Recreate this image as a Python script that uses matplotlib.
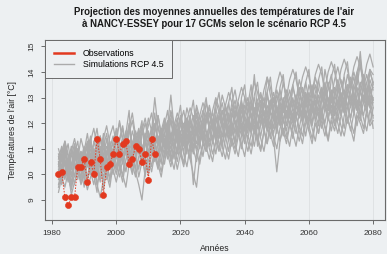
import numpy as np
import matplotlib
matplotlib.use("Agg")
import matplotlib.pyplot as plt

plt.rcParams['font.family'] = ['Liberation Sans', 'DejaVu Sans']

# observations Nancy-Essey, moyennes annuelles (°C)
obs_years = list(range(1982, 2013))
obs_temp = [10.0, 10.1, 9.1, 8.8, 9.1, 9.1, 10.3, 10.3, 10.6, 9.7,
            10.5, 10.0, 11.4, 10.6, 9.2, 10.3, 10.4, 10.8, 11.4, 10.8,
            11.2, 11.3, 10.4, 10.6, 11.1, 11.0, 10.5, 10.8, 9.8, 11.4,
            10.8]

sim_years = list(range(1982, 2081))

# 17 GCMs, RCP 4.5 (valeurs lues a l'oeil, 1982 -> 2080)
sim_01 = """10.1 10.8 9.9 10.6 10.2 11.0 10.4 9.8
10.9 10.3 11.2 10.6 10.0 11.1 10.7 11.4 10.5 10.9
11.3 10.6 11.0 11.7 10.8 10.4 11.5 11.1 10.7 11.6
11.2 10.8 11.9 11.3 10.9 11.6 11.0 12.2 11.4 10.9
11.7 11.2 12.0 11.5 10.9 12.1 11.6 11.3 12.3 11.8
11.4 12.2 11.7 12.5 11.9 11.3 12.4 12.0 11.6 12.7
12.1 11.6 12.8 12.3 11.9 12.6 12.0 13.1 12.4 11.8
12.7 12.2 12.9 11.9 12.5 13.0 12.3 12.8 12.1 13.2
12.6 12.0 13.1 12.7 12.2 13.3 12.5 12.9 12.3 13.4
12.8 12.4 13.2 12.6 13.5 12.9 12.3 13.6 12.7 13.1
12.8"""
sim_02 = """9.6 10.2 10.9 9.9 9.4 10.5 10.1 10.7
9.8 10.4 10.0 11.0 10.3 9.7 10.6 10.2 11.1 10.5
10.0 10.9 10.4 11.2 10.6 10.1 10.8 9.9 10.5 11.3
10.7 11.5 10.9 10.3 11.4 11.0 11.8 10.6 11.2 11.7
11.0 10.4 11.6 11.2 9.6 10.8 11.5 12.0 11.1 11.7
12.1 11.3 11.8 11.0 12.3 11.6 12.0 11.2 12.5 11.9
11.4 12.2 11.8 12.6 11.1 12.0 12.4 11.7 12.9 12.2
11.6 12.5 12.0 12.8 12.3 11.8 12.7 12.2 13.0 12.4
12.0 12.8 12.4 11.9 13.0 12.6 12.1 13.2 12.5 12.9
12.3 13.1 12.7 12.2 13.0 12.5 13.3 12.8 12.4 13.4
12.9"""
sim_03 = """11.0 10.5 11.3 10.8 10.2 11.1 10.6 11.4
10.9 11.6 10.7 11.2 11.8 10.8 11.3 10.6 11.5 11.9
11.2 12.1 11.4 10.9 11.8 12.4 11.5 11.0 11.9 11.4
12.2 11.7 13.0 11.8 11.3 12.1 11.6 12.5 12.0 11.5
12.3 11.8 12.6 12.1 11.6 12.7 12.2 11.9 12.8 12.3
11.8 12.9 12.4 13.1 12.6 12.0 12.8 13.3 12.5 12.1
13.0 12.7 13.5 12.4 12.9 13.2 12.6 13.8 13.1 12.5
13.3 12.8 13.6 13.0 12.6 13.4 12.9 13.7 13.2 12.7
13.5 13.0 13.8 13.3 12.9 14.1 13.4 13.0 13.7 14.2
13.6 13.1 13.9 13.4 14.0 13.5 14.3 13.8 13.2 14.0
13.6"""
sim_04 = """9.3 9.9 9.5 10.1 9.2 9.7 10.2 9.6
10.0 9.4 9.9 10.3 9.6 9.1 9.8 10.4 9.9 10.2
9.7 10.3 10.0 9.5 10.4 10.8 10.1 9.6 9.0 10.2
10.6 10.1 10.8 10.4 9.9 10.7 11.1 10.5 10.9 10.2
10.8 10.3 11.1 10.6 10.0 9.5 10.7 11.2 10.9 11.4
10.8 11.3 10.9 11.6 11.1 10.6 11.4 11.0 11.7 11.2
10.7 11.5 11.1 11.8 11.3 10.9 11.7 11.2 11.9 11.4
10.1 11.3 11.8 11.4 12.0 11.6 11.1 11.9 11.5 12.2
11.7 11.2 12.0 11.6 12.3 11.8 11.3 12.1 11.7 12.4
11.9 11.5 12.2 11.8 11.3 12.3 12.0 11.6 12.4 11.9
12.1"""
sim_05 = """10.4 10.0 10.7 11.2 10.3 9.9 10.8 10.5
11.0 10.6 10.2 11.3 10.8 11.5 10.4 10.9 11.2 10.7
11.6 11.1 10.6 11.4 11.0 11.7 11.2 10.8 11.5 12.0
11.4 11.0 11.7 12.3 11.5 11.1 11.9 13.1 11.8 11.3
12.0 11.5 12.2 11.7 11.3 12.4 11.9 11.4 12.1 12.6
12.0 11.6 12.3 11.9 12.7 12.2 11.8 12.5 12.1 12.8
12.3 11.9 12.6 13.9 12.4 12.0 12.8 12.3 12.9 12.5
12.1 12.8 12.4 13.1 12.7 12.2 13.0 12.6 12.3 13.2
12.8 12.4 13.1 12.7 13.4 12.9 12.5 13.3 12.8 12.4
13.2 12.8 13.5 13.0 12.6 13.6 14.8 13.4 12.9 13.7
13.3"""
sim_06 = """10.7 10.2 9.8 10.5 11.1 10.4 10.0 10.9
10.3 10.8 11.4 10.5 10.1 10.9 11.3 10.6 10.2 11.0
10.7 11.3 11.8 10.9 10.5 11.2 10.8 11.6 11.1 10.6
11.3 11.8 11.2 10.8 11.6 12.0 11.4 11.0 11.7 12.2
11.5 11.1 11.8 12.3 11.6 11.2 12.0 12.5 11.7 11.3
12.1 12.6 11.9 11.5 12.3 12.8 12.0 11.6 12.4 12.9
12.2 11.8 12.5 13.0 12.3 11.9 12.7 13.2 12.5 12.1
12.9 13.3 12.6 12.2 13.0 13.5 12.8 12.4 13.1 13.6
12.9 12.5 13.2 13.7 13.0 12.6 13.4 13.9 13.1 12.7
13.4 13.8 13.1 12.7 13.5 14.0 13.2 12.8 13.6 14.1
13.5"""
sim_07 = """10.0 10.6 10.3 9.7 10.4 10.9 10.2 9.9
10.6 11.1 10.5 10.0 10.8 10.3 9.9 10.7 11.2 10.6
10.2 10.9 11.4 10.8 10.3 11.0 11.5 10.9 10.4 11.2
11.7 11.0 10.6 11.3 11.8 11.2 10.8 11.5 12.0 11.4
11.0 11.7 12.2 11.5 11.1 11.8 12.3 11.6 11.2 12.0
12.4 11.8 11.4 12.1 12.6 12.0 11.5 12.3 12.8 12.1
11.7 12.4 12.9 12.2 11.8 12.5 13.0 12.3 11.9 12.6
13.1 12.5 12.1 12.8 13.3 12.6 12.2 12.9 13.4 12.8
12.3 13.0 13.5 12.8 12.4 13.1 13.6 13.0 12.5 13.2
13.7 13.1 12.6 13.3 13.8 13.2 12.7 13.4 13.9 13.3
12.9"""
sim_08 = """10.5 9.6 11.2 10.1 9.4 10.8 11.3 10.2
9.5 10.9 11.5 10.0 9.3 10.7 11.6 10.4 9.7 11.0
11.8 10.5 9.9 11.3 12.0 10.8 10.2 11.5 12.1 10.7
10.1 11.6 12.4 11.0 10.4 11.9 12.5 11.2 10.6 12.0
12.7 11.4 10.8 12.2 12.9 11.6 11.0 12.4 13.0 11.8
11.2 12.6 13.2 12.0 11.4 12.8 13.4 12.1 11.6 13.0
13.5 12.3 11.7 13.1 13.6 12.4 11.9 13.2 13.8 12.6
12.0 13.4 13.9 12.7 12.2 13.5 14.0 12.8 12.3 13.6
14.1 12.9 12.4 13.7 14.2 13.0 12.5 13.8 14.3 13.1
12.6 13.9 14.4 13.2 12.7 14.0 14.5 13.3 12.8 14.1
13.9"""
sim_09 = """9.8 10.3 10.9 10.4 9.9 10.6 11.0 10.5
10.1 10.7 11.3 10.8 10.2 10.6 11.1 11.6 10.7 10.3
10.9 11.4 11.9 11.0 10.6 11.2 11.7 11.3 10.8 11.4
11.9 12.4 11.5 11.1 11.7 12.2 11.8 11.2 11.9 12.4
12.0 11.4 12.1 12.6 12.2 11.6 12.3 12.8 12.4 11.8
12.5 13.0 12.6 12.0 12.7 13.2 12.8 12.2 12.9 13.4
13.0 12.4 13.1 13.6 13.2 12.6 13.3 13.8 13.4 12.8
13.5 14.0 13.6 13.0 13.7 14.1 13.7 13.1 13.8 14.2
13.8 13.2 13.9 14.3 13.9 13.3 14.0 14.4 14.0 13.4
14.1 14.5 14.1 13.5 14.2 14.6 14.2 13.6 14.3 14.7
14.2"""
sim_10 = """10.2 9.7 10.1 10.6 9.5 10.0 10.4 9.9
10.3 9.8 10.2 10.7 9.6 10.1 10.5 10.0 9.5 10.4
10.8 10.2 9.7 10.6 11.0 10.4 9.9 10.7 11.1 10.5
10.0 10.8 11.2 10.6 10.1 10.9 11.3 10.7 10.2 11.0
11.4 10.8 10.3 11.1 11.5 10.9 10.4 11.2 11.6 11.0
10.5 11.3 11.7 11.1 10.6 11.4 11.8 11.2 10.7 11.5
11.9 11.3 10.8 11.6 12.0 11.4 10.9 11.7 12.1 11.5
11.0 11.8 12.2 11.6 11.1 11.9 12.3 11.7 11.2 12.0
12.4 11.8 11.3 12.1 12.5 11.9 11.4 12.2 12.6 12.0
11.5 12.3 12.7 12.1 11.6 12.4 12.8 12.2 11.7 12.5
12.3"""
sim_11 = """10.6 11.1 10.5 10.0 10.7 11.2 10.6 10.1
10.8 11.3 10.7 10.2 10.9 11.4 10.8 10.3 11.0 11.5
10.9 10.4 11.1 11.6 12.5 10.5 11.2 11.7 11.1 10.6
11.3 11.8 11.2 10.7 11.4 11.9 11.3 10.8 11.5 12.0
11.4 10.9 11.6 12.1 11.5 11.0 11.7 12.2 11.6 11.1
11.8 12.3 11.7 11.2 11.9 12.4 11.8 11.3 12.0 12.5
11.9 11.4 12.1 12.6 12.0 11.5 12.2 12.7 12.1 11.6
12.3 12.8 12.2 11.7 12.4 12.9 12.3 11.8 12.5 13.0
12.4 11.9 12.6 13.1 12.5 12.0 12.7 13.2 12.6 12.1
12.8 13.3 12.7 12.2 12.9 13.4 12.8 12.3 13.0 13.5
12.6"""
sim_12 = """9.9 10.4 10.0 10.5 10.9 10.3 9.8 10.6
11.1 10.5 10.0 10.8 11.2 10.6 10.1 10.9 11.3 10.7
10.2 11.0 11.4 10.8 10.3 11.1 11.5 10.9 10.4 11.2
11.6 11.0 10.5 11.3 11.7 11.1 10.6 11.4 11.8 11.2
10.7 11.5 11.9 11.3 10.8 11.6 12.0 11.4 10.9 11.7
12.1 11.5 11.0 11.8 12.2 11.6 11.1 11.9 12.3 11.7
11.2 12.0 12.4 11.8 11.3 12.1 12.5 11.9 11.4 12.2
12.6 12.0 11.5 12.3 12.7 12.1 11.6 12.4 12.8 12.2
11.7 12.5 12.9 12.3 11.8 12.6 13.0 12.4 11.9 12.7
13.1 12.5 12.0 12.8 13.2 12.6 12.1 12.9 13.3 12.7
11.8"""
sim_13 = """10.3 10.9 11.3 10.2 9.7 10.5 10.8 10.4
9.9 10.6 11.0 10.5 11.5 10.8 9.4 10.3 10.9 11.2
10.7 10.3 11.0 11.5 10.9 10.5 11.3 11.8 10.8 9.9
10.9 11.5 11.1 11.9 11.4 10.7 11.6 12.1 11.3 10.8
11.6 12.0 11.5 11.0 11.8 12.3 11.7 11.2 12.0 12.4
11.8 11.3 12.1 12.5 11.9 11.4 12.2 12.7 12.0 11.5
12.3 12.8 12.2 11.6 12.4 12.9 12.3 11.7 12.5 13.0
12.4 11.9 12.6 13.1 12.5 12.0 12.7 13.2 12.6 12.1
12.8 13.3 12.7 12.2 12.9 13.4 12.8 12.3 13.0 13.5
12.9 12.4 13.1 13.6 13.0 12.5 13.2 13.7 13.1 12.6
13.0"""
sim_14 = """10.8 10.3 9.9 10.7 10.1 9.6 10.4 10.9
10.4 9.9 10.6 11.0 10.5 9.8 10.7 11.1 10.6 10.0
10.8 11.2 10.7 10.1 10.9 11.3 10.8 10.2 11.0 11.4
10.9 10.3 11.1 11.5 11.0 10.4 11.2 11.6 11.1 10.5
11.3 11.7 11.2 10.6 11.4 11.8 11.3 10.7 11.5 11.9
11.4 10.8 11.6 12.0 11.5 10.9 11.7 12.1 11.6 11.0
11.8 12.2 11.7 11.1 11.9 12.3 11.8 11.2 12.0 12.4
11.9 11.3 12.1 12.5 12.0 11.4 12.2 12.6 12.1 11.5
12.3 12.7 12.2 11.6 12.4 12.8 12.3 11.7 12.5 12.9
12.4 11.8 12.6 13.0 12.5 11.9 12.7 13.1 12.6 12.0
12.6"""
sim_15 = """10.1 10.6 11.2 10.7 10.2 10.8 11.0 10.3
10.7 11.2 10.6 10.3 11.0 11.5 11.0 10.4 10.8 11.3
11.7 11.1 10.6 11.3 11.8 11.2 10.7 11.4 11.9 11.3
10.8 11.5 12.0 11.4 10.9 11.6 12.1 11.5 11.0 11.7
12.2 11.6 11.1 11.8 12.3 11.7 11.2 11.9 12.4 11.8
11.3 12.0 12.5 11.9 11.4 12.1 12.6 12.0 11.5 12.2
12.7 12.1 11.6 12.3 12.8 12.2 11.7 12.4 12.9 12.3
11.8 12.5 13.0 12.4 11.9 12.6 13.1 12.5 12.0 12.7
13.2 12.6 12.1 12.8 13.3 12.7 12.2 12.9 13.4 12.8
12.3 13.0 13.5 12.9 12.4 13.1 13.6 13.0 12.5 13.2
13.4"""
sim_16 = """9.5 10.0 10.5 9.8 10.3 10.8 10.2 9.7
10.2 10.7 10.1 9.6 10.4 10.9 10.3 9.8 10.5 11.0
10.4 9.9 10.6 11.1 10.5 10.0 10.7 11.2 10.6 10.1
10.8 11.3 10.7 10.2 10.9 11.4 10.8 10.3 11.0 11.5
10.9 10.4 11.1 11.6 11.0 10.5 11.2 11.7 11.1 10.6
11.3 11.8 11.2 10.7 11.4 11.9 11.3 10.8 11.5 12.0
11.4 10.9 11.6 12.1 11.5 11.0 11.7 12.2 11.6 11.1
11.8 12.3 11.7 11.2 11.9 12.4 11.8 11.3 12.0 12.5
11.9 11.4 12.1 12.6 12.0 11.5 12.2 12.7 12.1 11.6
12.3 12.8 12.2 11.7 12.4 12.9 12.3 11.8 12.5 13.0
12.2"""
sim_17 = """10.4 11.0 10.6 10.1 10.9 11.4 10.8 10.2
11.0 10.5 11.3 11.8 11.1 10.6 11.4 11.9 11.2 10.7
11.5 12.0 11.3 10.8 11.6 12.1 11.4 10.9 11.7 12.2
11.5 11.0 11.8 12.3 11.6 11.1 11.9 12.4 11.7 11.2
12.0 12.5 11.8 11.3 12.1 12.6 11.9 11.4 12.2 12.7
12.0 11.5 12.3 12.8 12.1 11.6 12.4 12.9 12.2 11.7
12.5 13.0 12.3 11.8 12.6 13.1 12.4 11.9 12.7 13.2
12.5 12.0 12.8 13.3 12.6 12.1 12.9 13.4 12.7 12.2
13.0 13.5 12.8 12.3 13.1 13.6 12.9 12.4 13.2 13.7
13.0 12.5 13.3 13.8 13.1 12.6 13.4 13.9 13.2 12.7
13.6"""

simulations = [sim_01, sim_02, sim_03, sim_04, sim_05, sim_06, sim_07, sim_08,
               sim_09, sim_10, sim_11, sim_12, sim_13, sim_14, sim_15, sim_16,
               sim_17]

bg = '#edf0f2'
red = '#e2391f'
grey = '#ababab'

fig = plt.figure(figsize=(3.87, 2.54), dpi=100, facecolor=bg)
ax = fig.add_axes([0.1163, 0.1339, 0.8785, 0.7086], facecolor=bg)

for s in simulations:
    vals = np.array(s.split(), dtype=float)
    ax.plot(sim_years, vals, color=grey, lw=0.9, zorder=2)

ax.plot(obs_years, obs_temp, color=red, lw=0.7, ls=(0, (1.5, 1.5)), zorder=3)
ax.plot(obs_years, obs_temp, ls='none', marker='o', ms=4.4, mfc=red,
        mec=red, mew=0.4, zorder=4)

ax.set_xlim(1977.8, 2083.7)
ax.set_ylim(8.22, 15.25)
ax.set_xticks([1980, 2000, 2020, 2040, 2060, 2080])
ax.set_yticks([9, 10, 11, 12, 13, 14, 15])
ax.grid(axis='x', color='#dde0e2', lw=0.6)
ax.set_axisbelow(True)
for sp in ax.spines.values():
    sp.set_color('#6a6a6a')
    sp.set_linewidth(0.8)
ax.tick_params(axis='both', length=3, width=0.6, color='#555555',
               labelsize=6.0, labelcolor='#333333')
ax.tick_params(axis='x', pad=4)
ax.tick_params(axis='y', pad=4)
for lab in ax.get_yticklabels():
    lab.set_rotation(90)
    lab.set_va('center')

ax.set_xlabel('Années', fontsize=6.2, color='#222222', labelpad=5)
ax.set_ylabel("Températures de l'air [°C]", fontsize=6.2, color='#222222',
              labelpad=8)

fig.text(0.553, 0.953, "Projection des moyennes annuelles des températures de l'air",
         ha='center', va='center', fontsize=6.9, fontweight='bold', color='#1a1a1a')
fig.text(0.553, 0.904, "à NANCY-ESSEY pour 17 GCMs selon le scénario RCP 4.5",
         ha='center', va='center', fontsize=6.9, fontweight='bold', color='#1a1a1a')

h_obs, = ax.plot([], [], color=red, lw=1.8)
h_sim, = ax.plot([], [], color=grey, lw=1.0)
leg = ax.legend([h_obs, h_sim], ['Observations', 'Simulations RCP 4.5'],
                loc='upper left', bbox_to_anchor=(0.0, 1.0), fontsize=6.3,
                frameon=True, fancybox=False, borderpad=1.0, handlelength=2.3,
                handletextpad=1.0, labelspacing=0.25, borderaxespad=0.0)
leg.get_frame().set_facecolor(bg)
leg.get_frame().set_edgecolor('#6a6a6a')
leg.get_frame().set_linewidth(0.7)
leg.get_frame().set_alpha(1.0)

fig.savefig('out.png', dpi=100, facecolor=bg)
